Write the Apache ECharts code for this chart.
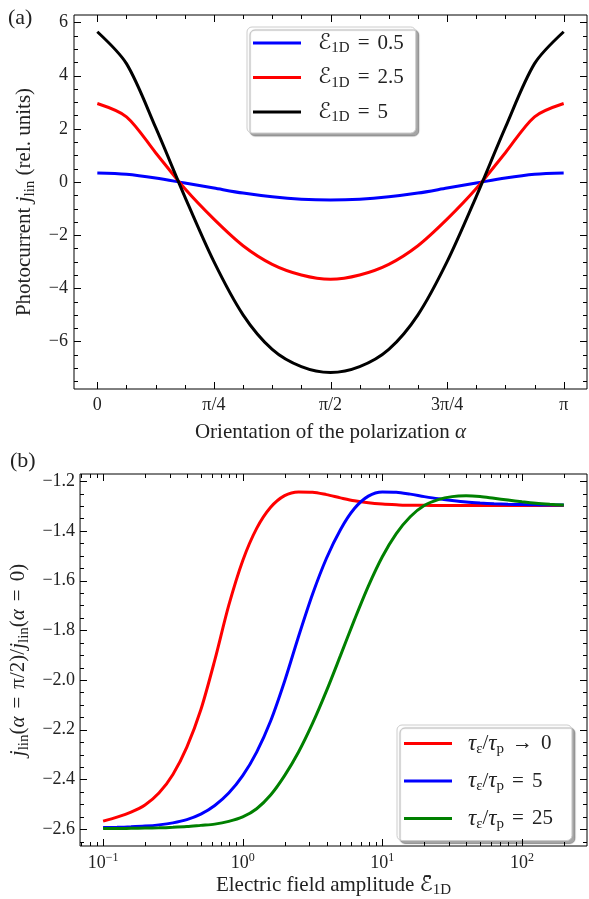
<!DOCTYPE html>
<html>
<head>
<meta charset="utf-8">
<script src="https://cdn.jsdelivr.net/npm/echarts@6/dist/echarts.min.js"></script>
<style>
  html, body { margin: 0; padding: 0; background: #fff; }
  #main { width: 589px; height: 899px; }
</style>
</head>
<body>
<div id="main"></div>
<script>
// (a) photocurrent vs polarization angle, alpha given in units of pi
const alphaOverPi = [0, 0.0625, 0.125, 0.1875, 0.25, 0.3125, 0.375, 0.4375, 0.5,
  0.5625, 0.625, 0.6875, 0.75, 0.8125, 0.875, 0.9375, 1];
const jField05 = [0.34, 0.29, 0.15, -0.04, -0.23, -0.42, -0.56, -0.65, -0.68,
  -0.65, -0.56, -0.42, -0.23, -0.04, 0.15, 0.29, 0.34];
const jField25 = [2.95, 2.45, 1.1, -0.25, -1.4, -2.4, -3.1, -3.5, -3.66,
  -3.5, -3.1, -2.4, -1.4, -0.25, 1.1, 2.45, 2.95];
const jField5 = [5.65, 4.45, 2.05, -0.55, -3.0, -5.0, -6.3, -6.95, -7.17,
  -6.95, -6.3, -5.0, -3.0, -0.55, 2.05, 4.45, 5.65];

// (b) ratio vs field amplitude, x is log10 of the amplitude
const logAmp = [-1.0, -0.9, -0.8, -0.7, -0.6, -0.5, -0.4, -0.3, -0.2, -0.1,
  0.0, 0.1, 0.2, 0.3, 0.4, 0.5, 0.6, 0.7, 0.8, 0.9,
  1.0, 1.1, 1.2, 1.3, 1.4, 1.5, 1.6, 1.7, 1.8, 1.9,
  2.0, 2.1, 2.2, 2.3];
const ratioTau0 = [-2.568, -2.552, -2.532, -2.503, -2.455, -2.38, -2.27, -2.12, -1.92, -1.70,
  -1.52, -1.39, -1.305, -1.258, -1.243, -1.244, -1.254, -1.267, -1.279, -1.287,
  -1.292, -1.295, -1.297, -1.297, -1.298, -1.298, -1.298, -1.298, -1.298, -1.298,
  -1.298, -1.298, -1.298, -1.298];
const ratioTau5 = [-2.594, -2.593, -2.591, -2.588, -2.583, -2.575, -2.562, -2.540, -2.505, -2.455,
  -2.385, -2.290, -2.165, -2.005, -1.825, -1.655, -1.510, -1.395, -1.310, -1.260,
  -1.243, -1.244, -1.252, -1.262, -1.271, -1.278, -1.284, -1.288, -1.291, -1.293,
  -1.294, -1.295, -1.296, -1.296];
const ratioTau25 = [-2.598, -2.598, -2.597, -2.596, -2.595, -2.593, -2.590, -2.585, -2.580, -2.569,
  -2.551, -2.518, -2.463, -2.385, -2.29, -2.175, -2.044, -1.902, -1.758, -1.622,
  -1.504, -1.411, -1.343, -1.298, -1.274, -1.262, -1.259, -1.262, -1.269, -1.276,
  -1.283, -1.289, -1.293, -1.296];

// ticks
const alphaTicks = [0, 0.25, 0.5, 0.75, 1];
const alphaTickLabels = ['0', 'π/4', 'π/2', '3π/4', 'π'];
const jTicks = [-6, -4, -2, 0, 2, 4, 6];
const ratioTicks = [-2.6, -2.4, -2.2, -2.0, -1.8, -1.6, -1.4, -1.2];
const decadeTicks = [-1, 0, 1, 2];

// axis extents
const alphaRange = [-0.05, 1.05];
const jRange = [-7.79, 6.28];
const logRange = [-1.165, 2.466];
const ratioRange = [-2.668, -1.171];

const F = "'Liberation Serif','DejaVu Serif',serif";
const FE = "'DejaVu Serif','DejaVu Sans',serif";
const TXT = '#222';

const grids = [
  { left: 74, top: 15, width: 513, height: 374 },
  { left: 76, top: 474, width: 511, height: 375 }
];

function range(a, b, step) {
  const out = [];
  for (let v = a; v <= b + 1e-9; v += step) out.push(Math.round(v * 1e4) / 1e4);
  return out;
}
const alphaMinor = range(0, 1, 0.0625).filter(v => alphaTicks.indexOf(v) < 0);
const jMinor = range(-7.5, 6, 0.5).filter(v => jTicks.indexOf(v) < 0);
const ratioMinor = range(-2.65, -1.2, 0.05).filter(v => !ratioTicks.some(t => Math.abs(t - v) < 1e-6));
const logMinor = [];
[-2, -1, 0, 1, 2].forEach(d => {
  for (let m = 2; m <= 9; m++) {
    const v = d + Math.log10(m);
    if (v > logRange[0] && v < logRange[1]) logMinor.push(v);
  }
});

const rich = {
  r: { fontFamily: F, fontSize: 21, color: TXT, lineHeight: 26 },
  i: { fontFamily: F, fontSize: 21, fontStyle: 'italic', color: TXT, lineHeight: 26 },
  t: { fontFamily: F, fontSize: 23, fontStyle: 'italic', color: TXT, lineHeight: 26 },
  eq: { fontFamily: F, fontSize: 21, color: TXT, lineHeight: 26, padding: [0, 8, 0, 8] },
  e: { fontFamily: FE, fontSize: 22, color: TXT, lineHeight: 26 },
  sub: { fontFamily: F, fontSize: 15, color: TXT, lineHeight: 16, verticalAlign: 'bottom' },
  b: { fontFamily: F, fontSize: 18, color: TXT, lineHeight: 22 },
  sup: { fontFamily: F, fontSize: 12, color: TXT, lineHeight: 14, verticalAlign: 'top' }
};

const minus = s => s.replace('-', '−');

function valueAxis(gridIndex, ext, position, label, name) {
  return Object.assign({
    type: 'value', gridIndex, min: ext[0], max: ext[1], position,
    splitLine: { show: false },
    axisLine: { show: false, onZero: false },
    axisTick: { show: false },
    axisLabel: Object.assign({ fontFamily: F, fontSize: 18, color: TXT }, label)
  }, name);
}

const xAxes = [
  valueAxis(0, alphaRange, 'bottom',
    { customValues: alphaTicks, margin: 7,
      formatter: v => alphaTickLabels[alphaTicks.indexOf(Math.round(v * 100) / 100)] },
    { name: '{r|Orientation of the polarization }{i|α}', nameLocation: 'middle', nameGap: 30,
      nameTextStyle: { rich } }),
  valueAxis(1, logRange, 'bottom',
    { customValues: decadeTicks, margin: 6, rich,
      formatter: v => '{b|10}{sup|' + minus(String(Math.round(v))) + '}' },
    { name: '{r|Electric field amplitude }{e|ℰ̄}{sub|1D}', nameLocation: 'middle', nameGap: 26,
      nameTextStyle: { rich } })
];
const yAxes = [
  valueAxis(0, jRange, 'left',
    { customValues: jTicks, margin: 6, formatter: v => minus(String(Math.round(v))) },
    { name: '{r|Photocurrent }{i|j}{sub|lin}{r| (rel. units)}', nameLocation: 'middle', nameGap: 36,
      nameRotate: 90, nameTextStyle: { rich } }),
  valueAxis(1, ratioRange, 'left',
    { customValues: ratioTicks, margin: 5, formatter: v => minus(v.toFixed(1)) },
    { name: '{i|j}{sub|lin}{r|(}{i|α}{eq|=}{r|π/2)/}{i|j}{sub|lin}{r|(}{i|α}{eq|=}{r|0)}',
      nameLocation: 'middle', nameGap: 48, nameRotate: 90, nameTextStyle: { rich } })
];

function line(name, xs, ys, color, gi) {
  return {
    name, type: 'line', smooth: 0.3, symbol: 'none', silent: true,
    xAxisIndex: gi, yAxisIndex: gi,
    lineStyle: { color, width: 3 }, itemStyle: { color },
    data: xs.map((x, i) => [x, ys[i]])
  };
}

const legendNames = {
  E05: '{e|ℰ}{sub|1D}{eq|=}{r|0.5}',
  E25: '{e|ℰ}{sub|1D}{eq|=}{r|2.5}',
  E5: '{e|ℰ}{sub|1D}{eq|=}{r|5}',
  T0: '{t|τ}{sub|ε}{r|/}{t|τ}{sub|p}{eq|→}{r|0}',
  T5: '{t|τ}{sub|ε}{r|/}{t|τ}{sub|p}{eq|=}{r|5}',
  T25: '{t|τ}{sub|ε}{r|/}{t|τ}{sub|p}{eq|=}{r|25}'
};

function legend(data, left, top, padding, gap, textPad) {
  return {
    data, left, top, orient: 'vertical', padding, itemGap: gap,
    icon: 'rect', itemWidth: 48, itemHeight: 3, selectedMode: false,
    backgroundColor: '#fff', borderColor: '#cccccc', borderWidth: 1, borderRadius: 5,
    shadowColor: 'rgba(0,0,0,0.35)', shadowBlur: 1, shadowOffsetX: 3, shadowOffsetY: 3,
    formatter: n => legendNames[n],
    textStyle: { rich, padding: [0, 0, 0, textPad] }
  };
}

const panelLabels = [
  { type: 'text', left: 8, top: 7, style: { text: '(a)', font: '22px ' + F, fill: TXT } },
  { type: 'text', left: 10, top: 450, style: { text: '(b)', font: '22px ' + F, fill: TXT } }
];

const chart = echarts.init(document.getElementById('main'));
chart.setOption({
  animation: false,
  backgroundColor: '#fff',
  grid: grids.map(g => Object.assign({ show: true, borderColor: '#000', borderWidth: 1, backgroundColor: 'transparent' }, g)),
  xAxis: xAxes,
  yAxis: yAxes,
  legend: [
    legend(['E05', 'E25', 'E5'], 247, 27, [5, 12, 8, 6], 10.5, 12),
    legend(['T0', 'T5', 'T25'], 397, 725, [7, 19, 9, 7], 13, 11)
  ],
  graphic: panelLabels,
  series: [
    line('E05', alphaOverPi, jField05, '#0000ff', 0),
    line('E25', alphaOverPi, jField25, '#ff0000', 0),
    line('E5', alphaOverPi, jField5, '#000000', 0),
    line('T0', logAmp, ratioTau0, '#ff0000', 1),
    line('T5', logAmp, ratioTau5, '#0000ff', 1),
    line('T25', logAmp, ratioTau25, '#008000', 1)
  ]
});

// inward tick marks on all four sides, as thin filled bars positioned through the axes
function toPixel(gi, xExt, yExt, x, y) {
  let p = null;
  try {
    p = chart.convertToPixel({ xAxisIndex: gi, yAxisIndex: gi }, [x, y]);
  } catch (e) {
    p = null;
  }
  if (!p || !isFinite(p[0]) || !isFinite(p[1])) {
    const g = grids[gi];
    p = [g.left + (x - xExt[0]) / (xExt[1] - xExt[0]) * g.width,
      g.top + g.height - (y - yExt[0]) / (yExt[1] - yExt[0]) * g.height];
  }
  return p;
}

function tickMarks(gi, xExt, yExt, xMajor, xMinor, yMajor, yMinor) {
  const out = [];
  const bar = (x, y, w, h) => out.push({
    type: 'rect', silent: true, z: 100,
    shape: { x, y, width: w, height: h },
    style: { fill: '#000' }
  });
  const xt = (vals, len) => vals.forEach(v => {
    const a = toPixel(gi, xExt, yExt, v, yExt[0]);
    const b = toPixel(gi, xExt, yExt, v, yExt[1]);
    const x = Math.round(a[0]);
    bar(x, Math.round(a[1]) - len, 1, len);
    bar(x, Math.round(b[1]), 1, len);
  });
  const yt = (vals, len) => vals.forEach(v => {
    const a = toPixel(gi, xExt, yExt, xExt[0], v);
    const b = toPixel(gi, xExt, yExt, xExt[1], v);
    const y = Math.round(a[1]);
    bar(Math.round(a[0]), y, len, 1);
    bar(Math.round(b[0]) - len, y, len, 1);
  });
  xt(xMajor, 7); xt(xMinor, 4); yt(yMajor, 7); yt(yMinor, 4);
  return out;
}

chart.setOption({
  graphic: panelLabels.concat(
    tickMarks(0, alphaRange, jRange, alphaTicks, alphaMinor, jTicks, jMinor),
    tickMarks(1, logRange, ratioRange, decadeTicks, logMinor, ratioTicks, ratioMinor)
  )
});
</script>
</body>
</html>
